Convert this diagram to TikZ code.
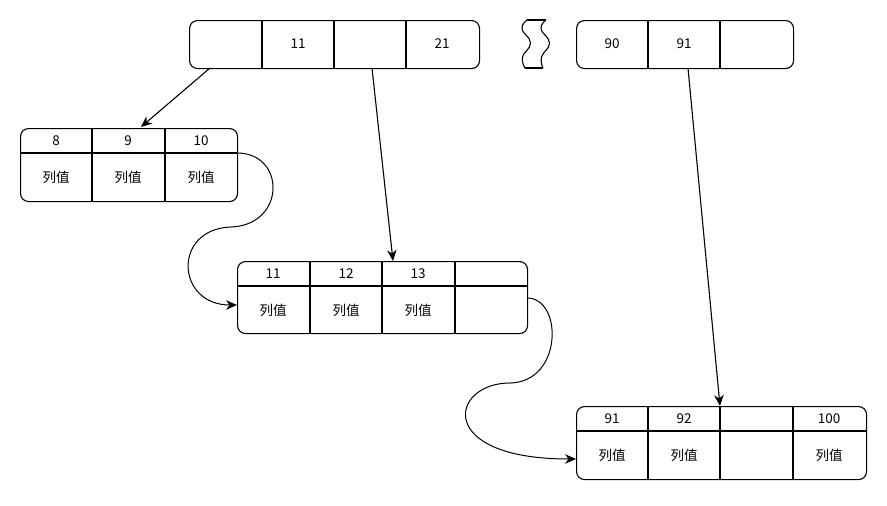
\documentclass[tikz,border=0pt]{standalone}
\usepackage{fontspec}
\setmainfont{Noto Sans CJK SC}
\usetikzlibrary{arrows.meta}
\begin{document}
\begin{tikzpicture}[x=1pt,y=-1pt,line width=1.1pt,
  box/.style={draw,rounded corners=8pt,inner sep=0pt,anchor=north west},
  lbl/.style={inner sep=0pt,font=\fontsize{13.5}{14}\selectfont},
  arr/.style={-{Stealth[length=11pt,width=9.5pt,inset=3.5pt]}}]
\useasboundingbox (0,0) rectangle (887,506);
% top level
\node[box,minimum width=290pt,minimum height=48pt] (t1) at (189,20) {};
\foreach \x in {262,334,406} \draw (\x,20) -- (\x,68);
\node[lbl] (t1b) at (298,44) {11};
\node[lbl] (t1d) at (442,44) {21};
\node[box,minimum width=217pt,minimum height=48pt] (t2) at (576,20) {};
\foreach \x in {648,720} \draw (\x,20) -- (\x,68);
\node[lbl] (t2a) at (612,44) {90};
\node[lbl] (t2b) at (684,44) {91};
% break mark
\draw (527,20) -- (546,20);
\draw (525,68) -- (543,68);
\draw plot[smooth,tension=0.8] coordinates {(527,20) (522,29) (530.5,43) (522.5,57) (525,68)};
\draw plot[smooth,tension=0.8] coordinates {(546,20) (541,29) (549.5,43) (541.5,57) (543,68)};
% leaf 1
\node[box,minimum width=217pt,minimum height=73pt] (l1) at (20,128) {};
\draw (20,153) -- (237,153);
\foreach \x in {92,165} \draw (\x,128) -- (\x,201);
\node[lbl] (l1ka) at (56,141) {8};
\node[lbl] (l1kb) at (128,141) {9};
\node[lbl] (l1kc) at (201,141) {10};
\node[lbl] (l1va) at (56,177) {列值};
\node[lbl] (l1vb) at (128,177) {列值};
\node[lbl] (l1vc) at (201,177) {列值};
% leaf 2
\node[box,minimum width=290pt,minimum height=72pt] (l2) at (237,261) {};
\draw (237,286) -- (527,286);
\foreach \x in {310,382,455} \draw (\x,261) -- (\x,333);
\node[lbl] (l2ka) at (273,274) {11};
\node[lbl] (l2kb) at (346,274) {12};
\node[lbl] (l2kc) at (418,274) {13};
\node[lbl] (l2va) at (273,310) {列值};
\node[lbl] (l2vb) at (346,310) {列值};
\node[lbl] (l2vc) at (418,310) {列值};
% leaf 3
\node[box,minimum width=290pt,minimum height=73pt] (l3) at (576,406) {};
\draw (576,431) -- (866,431);
\foreach \x in {648,720,793} \draw (\x,406) -- (\x,479);
\node[lbl] (l3ka) at (612,419) {91};
\node[lbl] (l3kb) at (684,419) {92};
\node[lbl] (l3kd) at (829,419) {100};
\node[lbl] (l3va) at (612,455) {列值};
\node[lbl] (l3vb) at (684,455) {列值};
\node[lbl] (l3vd) at (829,455) {列值};
% connector endpoints
\coordinate (p1s) at (210,68);
\coordinate (p1e) at (141,127);
\coordinate (p2s) at (372,68);
\coordinate (p2e) at (393,261);
\coordinate (p3s) at (688,68);
\coordinate (p3e) at (720,406);
\coordinate (c1s) at (237,153);
\coordinate (c1e) at (237,305);
\coordinate (c2s) at (527,298);
\coordinate (c2e) at (576,459);
% connectors
\draw[arr] (p1s) -- (p1e);
\draw[arr] (p2s) -- (p2e);
\draw[arr] (p3s) -- (p3e);
\draw[arr,line width=1pt] (c1s) .. controls (286,153) and (286,225) .. (231,227)
   .. controls (172,229) and (176,305) .. (c1e);
\draw[arr,line width=1pt] (c2s) .. controls (563,298) and (563,382) .. (510,383)
   .. controls (450,383) and (434,459) .. (c2e);
\end{tikzpicture}
\end{document}
